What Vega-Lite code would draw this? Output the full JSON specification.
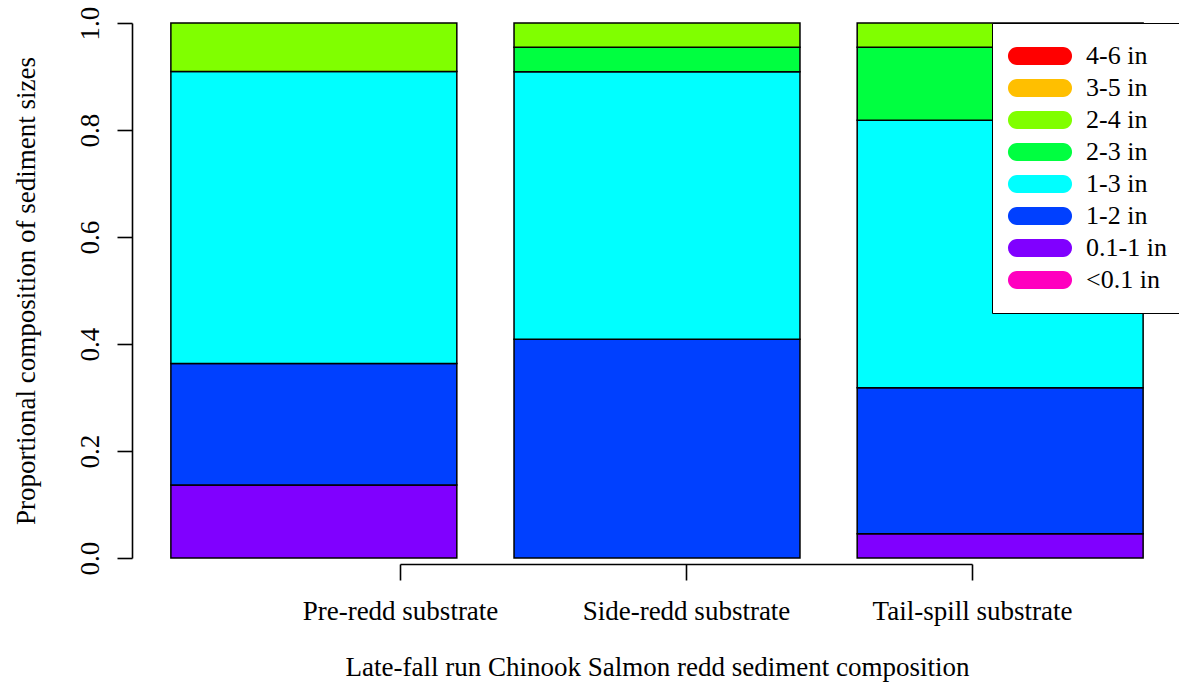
{
  "$schema": "https://vega.github.io/schema/vega-lite/v6.json",
  "width": 1047,
  "height": 535,
  "autosize": {"type": "none"},
  "padding": {"left": 132, "top": 23, "right": 0, "bottom": 131},
  "background": "white",
  "config": {
    "view": {"stroke": null},
    "font": "Liberation Serif",
    "axis": {"labelFont": "Liberation Serif", "titleFont": "Liberation Serif", "labelColor": "black", "titleColor": "black", "domainColor": "black", "tickColor": "black", "domainWidth": 1.6, "tickWidth": 1.6, "grid": false, "labelFontSize": 27, "titleFontSize": 27, "titleFontWeight": "normal", "labelFlush": false, "labelOverlap": false, "labelBound": false, "labelLimit": 500},
    "legend": {"labelFont": "Liberation Serif"}
  },
  "layer": [
    {
      "data": {"values": [
        {"site": "Pre-redd substrate", "size": "0.1-1 in", "proportion": 0.1364},
        {"site": "Pre-redd substrate", "size": "1-2 in", "proportion": 0.2273},
        {"site": "Pre-redd substrate", "size": "1-3 in", "proportion": 0.5455},
        {"site": "Pre-redd substrate", "size": "2-4 in", "proportion": 0.0908},
        {"site": "Side-redd substrate", "size": "1-2 in", "proportion": 0.4091},
        {"site": "Side-redd substrate", "size": "1-3 in", "proportion": 0.5},
        {"site": "Side-redd substrate", "size": "2-3 in", "proportion": 0.0455},
        {"site": "Side-redd substrate", "size": "2-4 in", "proportion": 0.0454},
        {"site": "Tail-spill substrate", "size": "0.1-1 in", "proportion": 0.0455},
        {"site": "Tail-spill substrate", "size": "1-2 in", "proportion": 0.2727},
        {"site": "Tail-spill substrate", "size": "1-3 in", "proportion": 0.5},
        {"site": "Tail-spill substrate", "size": "2-3 in", "proportion": 0.1364},
        {"site": "Tail-spill substrate", "size": "2-4 in", "proportion": 0.0454}
      ]},
      "mark": {"type": "bar", "stroke": "black", "strokeWidth": 1.5},
      "encoding": {
        "x": {"field": "site", "type": "nominal", "sort": ["Pre-redd substrate", "Side-redd substrate", "Tail-spill substrate"], "scale": {"range": [0, 1050], "paddingInner": 0.1667, "paddingOuter": 0.1133}, "axis": null},
        "y": {"field": "proportion", "type": "quantitative", "stack": "zero", "scale": {"domain": [0, 1], "nice": false}, "axis": {"values": [0, 0.2, 0.4, 0.6, 0.8, 1], "format": ".1f", "labelAngle": -90, "tickSize": 15, "labelPadding": 13, "title": "Proportional composition of sediment sizes", "titlePadding": 36}},
        "color": {"field": "size", "type": "nominal", "scale": {"domain": ["4-6 in", "3-5 in", "2-4 in", "2-3 in", "1-3 in", "1-2 in", "0.1-1 in", "<0.1 in"], "range": ["#FF0000", "#FFBF00", "#80FF00", "#00FF40", "#00FFFF", "#0040FF", "#8000FF", "#FF00BF"]}, "legend": {"orient": "none", "legendX": 860, "legendY": 0, "title": null, "direction": "vertical", "fillColor": "white", "strokeColor": "black", "padding": 20, "symbolType": "M -2.56 -1 L 2.56 -1 C 3.11 -1 3.56 -0.55 3.56 0 C 3.56 0.55 3.11 1 2.56 1 L -2.56 1 C -3.11 1 -3.56 0.55 -3.56 0 C -3.56 -0.55 -3.11 -1 -2.56 -1 Z", "symbolSize": 324, "symbolOffset": 15, "symbolStrokeWidth": 0, "symbolOpacity": 1, "labelFontSize": 26, "labelColor": "black", "labelOffset": 33, "rowPadding": 6, "labelLimit": 300}},
        "order": {"field": "size", "sort": "ascending"}
      }
    },
    {
      "data": {"values": [
        {"pos": 1, "site": "Pre-redd substrate"},
        {"pos": 2, "site": "Side-redd substrate"},
        {"pos": 3, "site": "Tail-spill substrate"}
      ]},
      "mark": {"type": "point", "opacity": 0},
      "encoding": {
        "x": {"field": "pos", "type": "quantitative", "scale": {"domain": [1, 3], "range": [268, 840], "nice": false, "zero": false}, "axis": {"values": [1, 2, 3], "labelExpr": "datum.value == 1 ? 'Pre-redd substrate' : datum.value == 2 ? 'Side-redd substrate' : 'Tail-spill substrate'", "tickSize": 16, "offset": 6, "labelPadding": 18, "title": "Late-fall run Chinook Salmon redd sediment composition", "titlePadding": 30, "titleX": 525}}
      }
    }
  ],
  "resolve": {"scale": {"x": "independent"}}
}
